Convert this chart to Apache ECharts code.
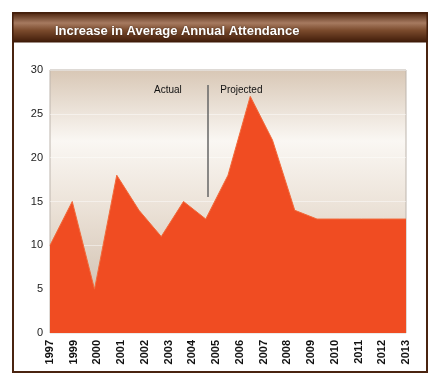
<!DOCTYPE html>
<html><head><meta charset="utf-8">
<script src="https://cdn.jsdelivr.net/npm/echarts@6/dist/echarts.min.js"></script>
<style>html,body{margin:0;padding:0;background:#fff}#c{width:440px;height:392px}</style>
</head><body><div id="c"></div>
<script>
var titleText = 'Increase in Average Annual Attendance';
var years = [1997,1998,1999,2000,2001,2002,2003,2004,2005,2006,2007,2008,2009,2010,2011,2012,2013];
var values = [10,15,5,18,14,11,15,13,18,27,22,14,13,13,13,13,13];
var tickLabels = ['1997','1999','2000','2001','2002','2003','2004','2005','2006','2007','2008','2009','2010','2011','2012','2013'];
var yTicks = [0,5,10,15,20,25,30];
var divider = 2004.1;
var notes = [{text:'Actual', x:2002.3, y:27.7},{text:'Projected', x:2005.6, y:27.7}];

var chart = echarts.init(document.getElementById('c'), null, {renderer:'canvas'});
var pts = years.map(function(y,i){return [y, values[i]];});
chart.setOption({
  animation:false,
  title:{text:titleText,left:50,top:20,textStyle:{color:'#fff',fontFamily:'Arial, Liberation Sans',fontWeight:'bold',fontSize:13,textShadowColor:'rgba(0,0,0,0.5)',textShadowBlur:2}},
  graphic:[
    {type:'rect',z:-10,shape:{x:13,y:13,width:414,height:359},style:{fill:'#fff',stroke:'#4a2410',lineWidth:2}},
    {type:'rect',z:-9,shape:{x:13,y:13,width:414,height:29},style:{fill:new echarts.graphic.LinearGradient(0,0,0,1,[
      {offset:0,color:'#4a220c'},{offset:0.35,color:'#a67a60'},{offset:0.6,color:'#7a4a2c'},{offset:1,color:'#3e1a08'}]),stroke:'#3e1a08',lineWidth:1}}
  ],
  grid:{left:50,right:34,top:70,bottom:59,show:true,borderColor:'#bdb5ad',borderWidth:1,
    backgroundColor:new echarts.graphic.LinearGradient(0,0,0,1,[
      {offset:0,color:'#d8c7b5'},{offset:0.27,color:'#faf7f3'},{offset:0.5,color:'#ede4da'},{offset:1,color:'#c8b5a2'}])},
  xAxis:[
    {type:'category',data:tickLabels,boundaryGap:false,axisLine:{show:false},axisTick:{show:false},splitLine:{show:false},
      axisLabel:{rotate:90,color:'#111',fontWeight:'bold',fontSize:11,fontFamily:'Arial, Liberation Sans',margin:7,interval:0}},
    {type:'value',min:years[0],max:years[years.length-1],show:false,splitLine:{show:false}}
  ],
  yAxis:{type:'value',min:0,max:30,interval:5,axisLine:{show:false},axisTick:{show:false},
    axisLabel:{color:'#222',fontSize:11,fontFamily:'Arial, Liberation Sans',margin:7},
    splitLine:{show:true,lineStyle:{color:'rgba(255,255,255,0.45)',width:1}}},
  series:[{type:'line',xAxisIndex:1,data:pts,symbol:'none',
    lineStyle:{color:'#f26a3a',width:1},areaStyle:{color:'#f04c22',opacity:1},
    markLine:{silent:true,symbol:'none',label:{show:false},lineStyle:{color:'#666',width:1.5,type:'solid'},
      data:[[{coord:[divider,15.5]},{coord:[divider,28.3]}]]},
    markPoint:{silent:true,symbol:'circle',symbolSize:0,
      label:{show:true,color:'#111',fontSize:10,fontFamily:'Arial, Liberation Sans',formatter:'{b}'},
      data:notes.map(function(n){return {name:n.text,coord:[n.x,n.y]};})}
  }]
});
</script></body></html>
